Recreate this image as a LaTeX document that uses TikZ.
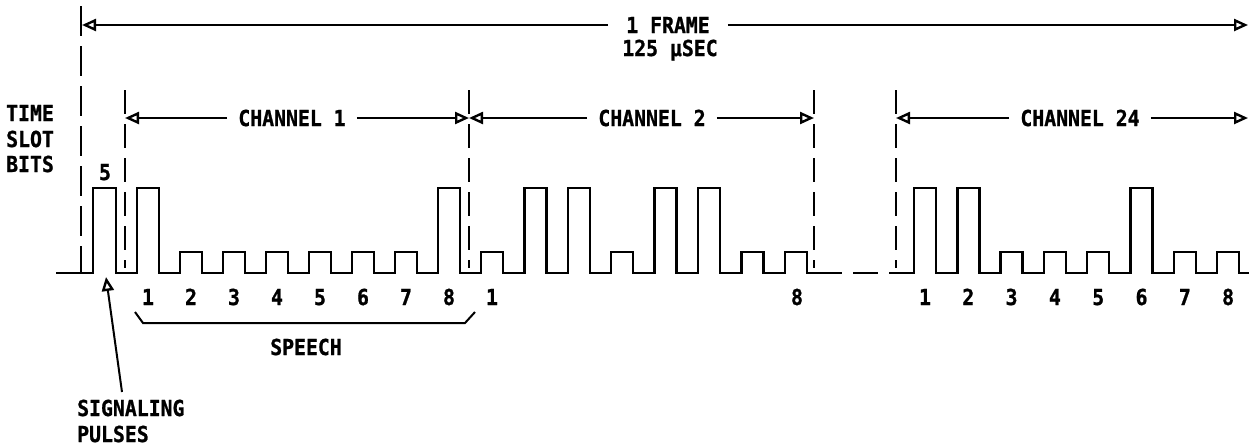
\documentclass[tikz,border=0pt]{standalone}
\usepackage{fontspec}
\newfontfamily\lbfont{DejaVu Sans Mono}[FakeStretch=0.9, FakeBold=1]
\usetikzlibrary{arrows.meta}
\begin{document}
\begin{tikzpicture}[x=1pt,y=-1pt,
  wave/.style={line width=2.4pt, line join=miter},
  bnd/.style={line width=2.2pt, dash pattern=on 24pt off 10pt},
  dim/.style={line width=2pt, -{Triangle[open,length=14pt,width=12pt,line width=2.4pt]}},
  lbl/.style={font=\lbfont\bfseries\fontsize{22}{26}\selectfont, inner sep=0pt},
  gap/.style={lbl, inner xsep=11pt}]
\useasboundingbox (0,0) rectangle (1249,445);

% boundary coordinates
\coordinate (fltop) at (81,6);
\coordinate (flbot) at (81,273);
\coordinate (fl) at (82,25);
\coordinate (fr) at (1248,25);
\coordinate (b1top) at (125,90);  \coordinate (b1bot) at (125,268); \coordinate (b1) at (125,118);
\coordinate (b2top) at (469,90);  \coordinate (b2bot) at (469,268); \coordinate (b2) at (469,118);
\coordinate (b3top) at (814,90);  \coordinate (b3bot) at (814,268); \coordinate (b3) at (814,118);
\coordinate (b4top) at (896,90);  \coordinate (b4bot) at (896,268); \coordinate (b4) at (896,118);
\coordinate (b5) at (1248,118);

% dashed boundary lines
\draw[bnd, dash pattern=on 30pt off 10pt] (fltop) -- (flbot);
\draw[bnd] (b1top) -- (b1bot);
\draw[bnd] (b2top) -- (b2bot);
\draw[bnd] (b3top) -- (b3bot);
\draw[bnd] (b4top) -- (b4bot);

% frame dimension
\node[gap, inner xsep=18pt] (frame) at (668,25) {1 FRAME};
\node[lbl, anchor=base] (usec) at (670,56) {125 µSEC};
\draw[dim] (frame.west) -- (fl);
\draw[dim] (frame.east) -- (fr);

% channel dimensions
\node[gap] (ch1) at (292,118) {CHANNEL 1};
\draw[dim] (ch1.west) -- (b1);
\draw[dim] (ch1.east) -- (b2);
\node[gap] (ch2) at (652,118) {CHANNEL 2};
\draw[dim] (ch2.west) -- (b2);
\draw[dim] (ch2.east) -- (b3);
\node[gap] (ch24) at (1080,118) {CHANNEL 24};
\draw[dim] (ch24.west) -- (b4);
\draw[dim] (ch24.east) -- (b5);

% left labels
\node[lbl, anchor=base west] (time) at (6,121) {TIME};
\node[lbl, anchor=base west] (slot) at (6,147) {SLOT};
\node[lbl, anchor=base west] (bits) at (6,172) {BITS};
\node[lbl, anchor=base] (five) at (105,180) {5};

% pulse train
\draw[wave] (56,273) -- (93,273) -- (93,188) -- (116,188) -- (116,273)
  foreach \k/\h in {0/188,1/252,2/252,3/252,4/252,5/252,6/252,7/188}
    { -- ({137+43*\k},273) -- ({137+43*\k},\h) -- ({159+43*\k},\h) -- ({159+43*\k},273) }
  foreach \k/\h in {0/252,1/188,2/188,3/252,4/188,5/188,6/252,7/252}
    { -- ({481+43.4*\k},273) -- ({481+43.4*\k},\h) -- ({503+43.4*\k},\h) -- ({503+43.4*\k},273) }
  -- (842,273);
\draw[wave] (853,273) -- (878,273);
\draw[wave] (889,273)
  foreach \k/\h in {0/188,1/188,2/252,3/252,4/252,5/188,6/252,7/252}
    { -- ({914+43.3*\k},273) -- ({914+43.3*\k},\h) -- ({936+43.3*\k},\h) -- ({936+43.3*\k},273) }
  -- (1249,273);

% bit numbers
\foreach \k in {1,...,8}
  \node[lbl, anchor=base] (a\k) at ({148+43*(\k-1)},305) {\k};
\node[lbl, anchor=base] (c2a) at (492,305) {1};
\node[lbl, anchor=base] (c2b) at (797,305) {8};
\foreach \k in {1,...,8}
  \node[lbl, anchor=base] (z\k) at ({925+43.3*(\k-1)},305) {\k};

% speech bracket
\coordinate (sp1) at (135,312);
\coordinate (sp2) at (143,323);
\coordinate (sp3) at (465,323);
\coordinate (sp4) at (475,312);
\draw[line width=2pt] (sp1) -- (sp2) -- (sp3) -- (sp4);
\node[lbl, anchor=base] (speech) at (306,355) {SPEECH};

% signaling pulses
\node[lbl, anchor=base west] (sig) at (77,416) {SIGNALING};
\node[lbl, anchor=base west] (pul) at (77,442) {PULSES};
\coordinate (sigstart) at (122,392);
\coordinate (sigtip) at (106,277);
\draw[dim] (sigstart) -- (sigtip);
\end{tikzpicture}
\end{document}
